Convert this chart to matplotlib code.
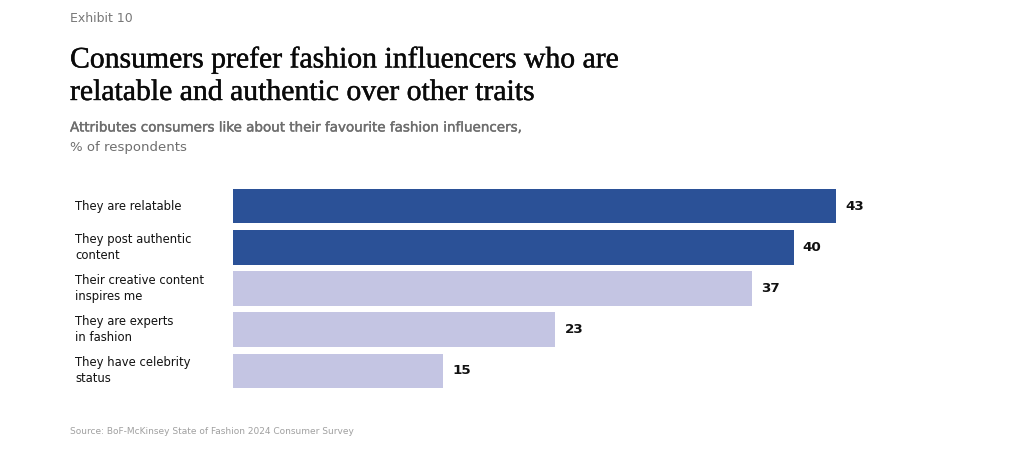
import matplotlib
matplotlib.use("Agg")
import matplotlib.pyplot as plt
import matplotlib.patheffects as pe

categories = ["They are relatable", "They post authentic\ncontent",
              "Their creative content\ninspires me", "They are experts\nin fashion",
              "They have celebrity\nstatus"]
values = [43, 40, 37, 23, 15]
highlight = [True, True, False, False, False]

DARK = "#2B5197"
LIGHT = "#C4C5E3"

fig = plt.figure(figsize=(10.14, 4.75), dpi=100)
W, H = 1014, 475

ax = fig.add_axes([233 / W, 1 - 391.6 / H, 701 / W, 206.2 / H])
colors = [DARK if h else LIGHT for h in highlight]
ypos = list(range(len(categories)))
ax.barh(ypos, values, height=0.84, color=colors)
ax.set_xlim(0, 50)
ax.set_ylim(len(categories) - 0.5, -0.5)
ax.axis("off")

for y, v, c in zip(ypos, values, categories):
    ax.annotate(str(v), (v, y), xytext=(6.5, 0), textcoords="offset points",
                va="center", ha="left", fontsize=9.7, fontweight="bold", color="#111111")
    ax.annotate(c, (0, y), xycoords=("figure fraction", "data"),
                xytext=(75, 0), textcoords="offset pixels",
                va="center", ha="left", fontsize=8.4, color="#111111", linespacing=1.3)

fig.text(70 / W, 1 - 18 / H, "Exhibit 10", fontsize=9, color="#777777", va="center", ha="left")
stroke = [pe.withStroke(linewidth=0.3, foreground="#0a0a0a")]
fig.text(70 / W, 1 - 60 / H, "Consumers prefer fashion influencers who are", fontsize=21.4,
         family="Liberation Serif", color="#0a0a0a", va="center", ha="left", path_effects=stroke)
fig.text(70 / W, 1 - 93 / H, "relatable and authentic over other traits", fontsize=21.4,
         family="Liberation Serif", color="#0a0a0a", va="center", ha="left", path_effects=stroke)
sub_stroke = [pe.withStroke(linewidth=0.3, foreground="#6e6e6e")]
fig.text(70 / W, 1 - 128 / H, "Attributes consumers like about their favourite fashion influencers,",
         fontsize=9.7, color="#6e6e6e", va="center", ha="left", path_effects=sub_stroke)
fig.text(70 / W, 1 - 148 / H, "% of respondents", fontsize=9.5, color="#6e6e6e", va="center", ha="left")
fig.text(70 / W, 1 - 431 / H, "Source: BoF-McKinsey State of Fashion 2024 Consumer Survey",
         fontsize=6.5, color="#a0a0a0", va="center", ha="left")

fig.savefig("out.png", dpi=100, facecolor="white")
